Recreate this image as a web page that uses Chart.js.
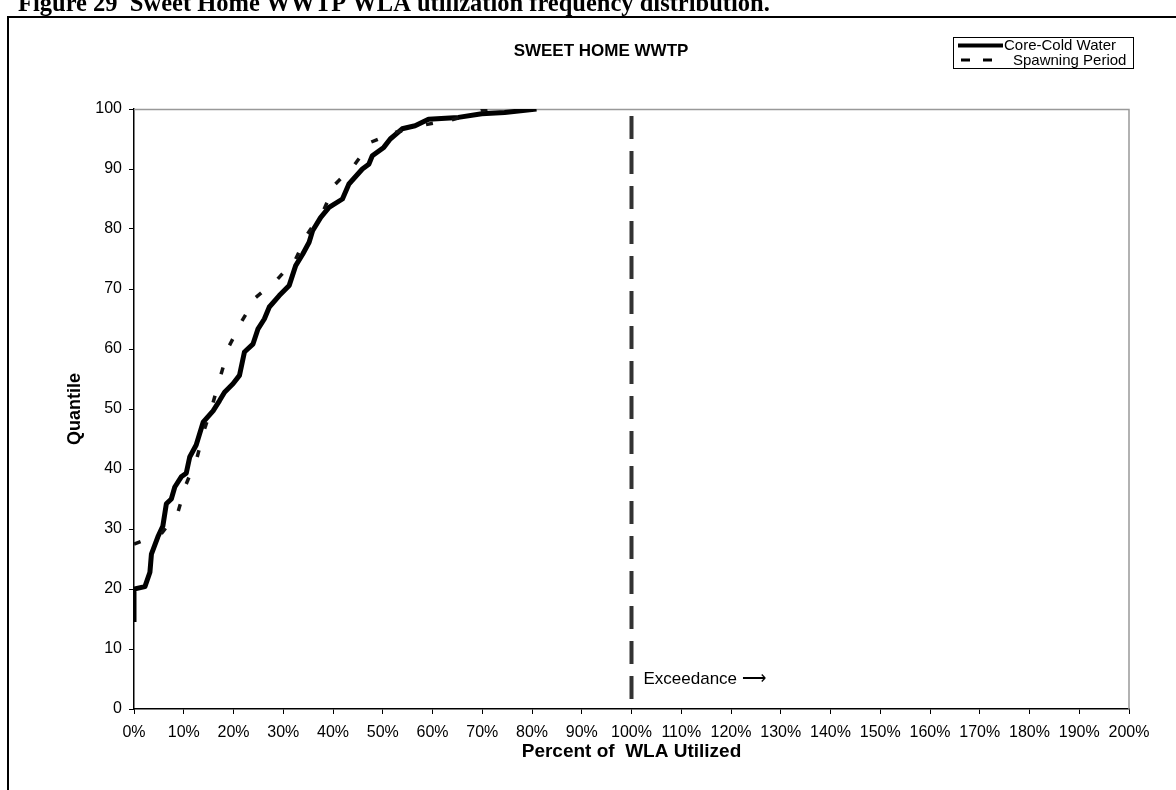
<!DOCTYPE html>
<html>
<head>
<meta charset="utf-8">
<script src="https://cdn.jsdelivr.net/npm/chart.js@4/dist/chart.umd.min.js"></script>
<style>
  html, body { margin: 0; padding: 0; background: #fff; }
  #wrap { width: 1176px; height: 790px; position: relative; }
</style>
</head>
<body>
<div id="wrap"><canvas id="wlaChart" width="1176" height="790"></canvas></div>
<script>
// Core-Cold Water (percent of WLA utilized vs quantile)
const coreX = [0, 0, 2.2, 3.2, 3.5, 4.8, 5.8, 6.5, 7.5, 8.2, 9.5, 10.5, 11.2, 12.5, 13.9, 15.9, 17.2, 18.2,
  19.9, 21.2, 22.2, 23.9, 24.9, 26.2, 27.2, 29.2, 31.2, 32.5, 33.9, 35.2, 35.9, 37.5, 39.2, 41.9, 43.2,
  45.9, 47.2, 47.9, 50.2, 51.5, 53.9, 56.5, 59.2, 65.2, 69.9, 74.5, 80.9];
const coreY = [14.5, 20, 20.4, 22.8, 25.8, 28.7, 30.5, 34.2, 35, 37, 38.7, 39.3, 42, 44, 47.8, 49.7, 51.4, 52.8,
  54.2, 55.6, 59.5, 60.8, 63.3, 65, 67, 68.9, 70.6, 73.9, 75.8, 77.8, 79.7, 81.9, 83.6, 85, 87.5,
  90, 90.8, 92.2, 93.6, 95, 96.7, 97.2, 98.3, 98.6, 99.2, 99.4, 100];

// Spawning Period
const spawnX = [0, 5.5, 8.9, 10.5, 12.7, 14.2, 15.9, 17.5, 19.2, 21.7, 24.5, 28.9, 32.5, 34.9, 38.2, 40.5,
  44.4, 47.7, 52.5, 58.7, 63.9, 69.7, 71];
const spawnY = [27.5, 29.2, 33, 37.5, 42, 46.7, 51.1, 55.8, 60.6, 64.7, 68.6, 71.7, 75, 79.2, 83.3, 87.5,
  90.8, 94.5, 96.1, 97.4, 98.2, 99.7, 100];

// 100% WLA limit line
const limitX = [100, 100];
const limitY = [0, 100];

const seriesNames = ['Core-Cold Water', 'Spawning Period'];
const chartTitle = 'SWEET HOME WWTP';
const figCaption = 'Figure 29  Sweet Home WWTP WLA utilization frequency distribution.';
const xTitle = 'Percent of  WLA Utilized';
const yTitle = 'Quantile';
const noteText = 'Exceedance \u27F6';

const FONT = '"Liberation Sans", Arial, sans-serif';

function pairs(xs, ys) {
  return xs.map((x, i) => ({ x: x, y: ys[i] }));
}

// frame, caption, title, legend, note
const decor = {
  id: 'decor',
  beforeDatasetsDraw(chart) {
    const { ctx, chartArea: a } = chart;
    ctx.save();
    ctx.strokeStyle = '#999';
    ctx.lineWidth = 1.5;
    ctx.beginPath();
    ctx.moveTo(a.left, a.top + 0.5);
    ctx.lineTo(a.right, a.top + 0.5);
    ctx.lineTo(a.right, a.bottom);
    ctx.stroke();
    ctx.restore();
  },
  afterDraw(chart) {
    const { ctx, scales } = chart;
    ctx.save();
    // outer frame
    ctx.strokeStyle = '#000';
    ctx.lineWidth = 2;
    ctx.strokeRect(8, 17, 1200, 800);

    // caption (cut by the top edge)
    ctx.fillStyle = '#000';
    ctx.font = 'bold 24.5px "Liberation Serif", "Times New Roman", serif';
    ctx.textBaseline = 'alphabetic';
    ctx.textAlign = 'left';
    ctx.fillText(figCaption, 18, 11);

    // chart title
    ctx.font = 'bold 17px ' + FONT;
    ctx.textAlign = 'center';
    ctx.textBaseline = 'middle';
    ctx.fillText(chartTitle, 601, 51);

    // legend
    const lx = 953, ly = 37, lw = 180, lh = 31;
    ctx.fillStyle = '#fff';
    ctx.fillRect(lx, ly, lw, lh);
    ctx.strokeStyle = '#000';
    ctx.lineWidth = 1;
    ctx.strokeRect(lx + 0.5, ly + 0.5, lw, lh);
    ctx.lineWidth = 4;
    ctx.beginPath();
    ctx.moveTo(lx + 5, ly + 8.5);
    ctx.lineTo(lx + 50, ly + 8.5);
    ctx.stroke();
    ctx.lineWidth = 3;
    ctx.setLineDash([9, 13]);
    ctx.beginPath();
    ctx.moveTo(lx + 8, ly + 23);
    ctx.lineTo(lx + 50, ly + 23);
    ctx.stroke();
    ctx.setLineDash([]);
    ctx.fillStyle = '#000';
    ctx.font = '15px ' + FONT;
    ctx.textAlign = 'left';
    ctx.fillText(seriesNames[0], lx + 51, ly + 9);
    ctx.fillText(seriesNames[1], lx + 60, ly + 23.5);

    // exceedance note
    ctx.font = '17px ' + FONT;
    ctx.fillText(noteText, scales.x.getPixelForValue(100) + 12, scales.y.getPixelForValue(5));
    ctx.restore();
  }
};

const ctx = document.getElementById('wlaChart').getContext('2d');
const wlaChart = new Chart(ctx, {
  type: 'scatter',
  data: {
    datasets: [
      {
        label: 'WLA limit',
        data: pairs(limitX, limitY),
        showLine: true,
        borderColor: '#333',
        borderWidth: 4,
        borderDash: [23, 12],
        borderDashOffset: 25,
        borderCapStyle: 'butt',
        pointRadius: 0
      },
      {
        label: seriesNames[1],
        data: pairs(spawnX, spawnY),
        showLine: true,
        borderColor: '#111',
        borderWidth: 3.5,
        borderDash: [7, 300],
        pointRadius: 0,
        // restart the dash at each point, like the original plot
        segment: {
          borderDashOffset: c => (c.p0DataIndex % 2 ? 0.001 : 0)
        }
      },
      {
        label: seriesNames[0],
        data: pairs(coreX, coreY),
        showLine: true,
        borderColor: '#000',
        borderWidth: 5,
        borderJoinStyle: 'round',
        borderCapStyle: 'butt',
        pointRadius: 0
      }
    ]
  },
  options: {
    responsive: false,
    animation: false,
    layout: { padding: { left: 60, right: 47, top: 109, bottom: 23 } },
    plugins: {
      legend: { display: false },
      title: { display: false },
      tooltip: { enabled: false }
    },
    scales: {
      x: {
        type: 'linear',
        min: 0,
        max: 200,
        afterFit: s => { s.height = 58; },
        ticks: {
          stepSize: 10,
          color: '#000',
          padding: 9,
          maxRotation: 0,
          autoSkip: false,
          font: { family: FONT, size: 16 },
          callback: v => v + '%'
        },
        grid: { drawOnChartArea: false, tickLength: 5, color: '#000' },
        border: { color: '#000', width: 1.5 },
        title: {
          display: true,
          text: xTitle,
          color: '#000',
          font: { family: FONT, size: 19, weight: 'bold' },
          padding: { top: 4, bottom: 4 }
        }
      },
      y: {
        min: 0,
        max: 100,
        afterFit: s => { s.width = 74; },
        ticks: {
          stepSize: 10,
          color: '#000',
          padding: 7,
          font: { family: FONT, size: 16 }
        },
        grid: { drawOnChartArea: false, tickLength: 5, color: '#000' },
        border: { color: '#000', width: 1.5 },
        title: {
          display: true,
          text: yTitle,
          color: '#000',
          font: { family: FONT, size: 18, weight: 'bold' },
          padding: { top: 4, bottom: 4 }
        }
      }
    }
  },
  plugins: [decor]
});
</script>
</body>
</html>
